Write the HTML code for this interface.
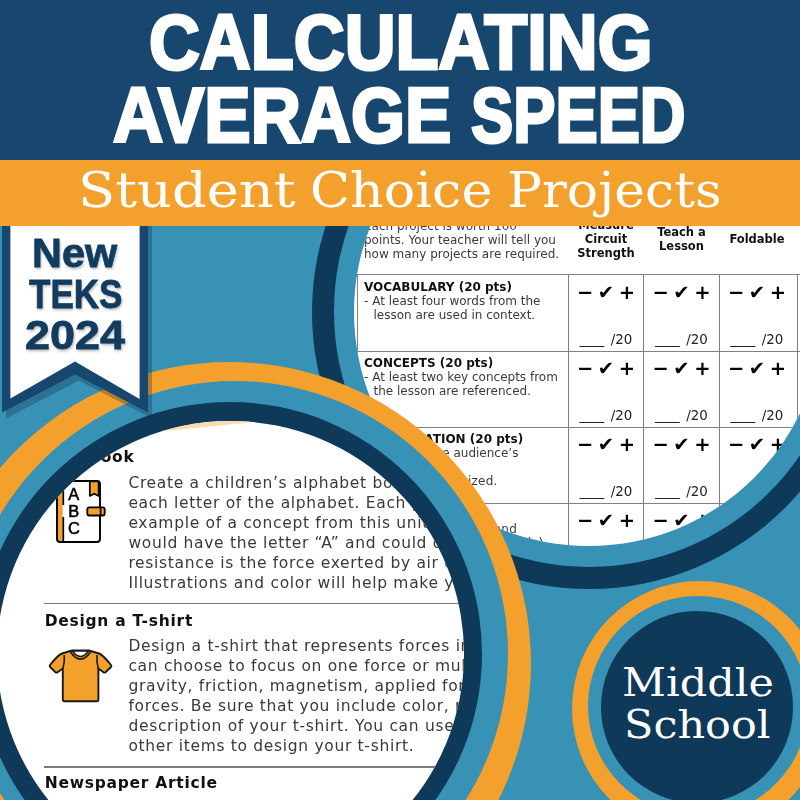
<!DOCTYPE html>
<html lang="en">
<head>
<meta charset="utf-8">
<title>Calculating Average Speed - Student Choice Projects</title>
<style>
html,body{margin:0;padding:0}
body{width:800px;height:800px;overflow:hidden;position:relative;background:#3792b6;font-family:"DejaVu Sans","Liberation Sans",sans-serif}
.abs{position:absolute}
.circ{position:absolute;border-radius:50%}
.doc{position:absolute;border-radius:50%;overflow:hidden;background:#fff}
.page{position:absolute;width:800px;height:800px;will-change:transform}
.t{position:absolute;white-space:pre;line-height:1;transform-origin:0 0}
/* rubric */
.rb{font:12px "DejaVu Sans","Liberation Sans",sans-serif;color:#3b3b3b}
.rh{font:bold 12px "DejaVu Sans","Liberation Sans",sans-serif;color:#111}
.ch{font:bold 11.5px "DejaVu Sans","Liberation Sans",sans-serif;color:#111;text-align:center;width:76px;letter-spacing:0}
.sym{font:bold 19.5px "DejaVu Sans","Liberation Sans",sans-serif;color:#000;text-align:center;width:76px;word-spacing:-2.2px}
.us{letter-spacing:-.7px}
.sc{font:13.4px "DejaVu Sans","Liberation Sans",sans-serif;color:#222;text-align:center;width:76px;word-spacing:3px}
.hl{position:absolute;height:1.2px;background:#808080}
.vl{position:absolute;width:1.2px;background:#808080}
/* projects doc */
.pb{font:15.5px "DejaVu Sans","Liberation Sans",sans-serif;color:#3a3a3a;letter-spacing:.68px}
.ph{font:bold 15.5px "DejaVu Sans","Liberation Sans",sans-serif;color:#111;letter-spacing:.73px}
.dv{position:absolute;height:1.6px;background:#7a7a7a}
/* header */
.hd{font:bold 77.4px "Liberation Sans",sans-serif;color:#fff;-webkit-text-stroke:3px #fff}
.sub{font:49px "DejaVu Serif","Liberation Serif",serif;color:#fff}
.rib{font:bold 40.6px "Liberation Sans",sans-serif;color:#123c5e;-webkit-text-stroke:.8px #123c5e;text-shadow:1px 2px 3px rgba(0,0,0,.3)}
.ms{font:39.4px "DejaVu Serif","Liberation Serif",serif;color:#fff}
</style>
</head>
<body>

<!-- ===== rubric circle (top right) ===== -->
<div class="circ" style="left:312.3px;top:34.8px;width:553.8px;height:553.8px;background:#0e3959"></div>
<div class="circ" style="left:333.9px;top:56.4px;width:510.6px;height:510.6px;background:#3792b6"></div>
<div class="doc" id="rubric" style="left:354.4px;top:78px;width:468.2px;height:468.2px">
 <div class="page" style="left:-354.4px;top:-78.5px">
  <div class="t rb" style="left:364px;top:219px">Each project is worth 100</div>
  <div class="t rb" style="left:364px;top:233px">points. Your teacher will tell you</div>
  <div class="t rb" style="left:364px;top:247px">how many projects are required.</div>
  <div class="t ch" style="left:568px;top:218px">Measure</div>
  <div class="t ch" style="left:568px;top:232px">Circuit</div>
  <div class="t ch" style="left:568px;top:246px">Strength</div>
  <div class="t ch" style="left:643.5px;top:225px">Teach a</div>
  <div class="t ch" style="left:643.5px;top:239px">Lesson</div>
  <div class="t ch" style="left:719px;top:232px">Foldable</div>

  <div class="hl" style="left:357px;top:273.7px;width:460px"></div>
  <div class="hl" style="left:357px;top:350.5px;width:460px"></div>
  <div class="hl" style="left:357px;top:426.5px;width:460px"></div>
  <div class="hl" style="left:357px;top:502.7px;width:460px"></div>
  <div class="vl" style="left:356.6px;top:273.7px;height:300px"></div>
  <div class="vl" style="left:567.8px;top:273.7px;height:300px"></div>
  <div class="vl" style="left:643.3px;top:273.7px;height:300px"></div>
  <div class="vl" style="left:718.6px;top:273.7px;height:300px"></div>
  <div class="vl" style="left:797.2px;top:273.7px;height:300px"></div>

  <div class="t rh" style="left:364px;top:279.5px">VOCABULARY (20 pts)</div>
  <div class="t rb" style="left:364px;top:294px">- At least four words from the</div>
  <div class="t rb" style="left:373.5px;top:308px">lesson are used in context.</div>

  <div class="t rh" style="left:364px;top:355.5px">CONCEPTS (20 pts)</div>
  <div class="t rb" style="left:364px;top:370px">- At least two key concepts from</div>
  <div class="t rb" style="left:373.5px;top:384px">the lesson are referenced.</div>

  <div class="t rh" style="left:364px;top:431.5px">PRESENTATION (20 pts)</div>
  <div class="t rb" style="left:364px;top:446px">- Captures the audience’s</div>
  <div class="t rb" style="left:373.5px;top:460px">attention.</div>
  <div class="t rb" style="left:364px;top:474px;letter-spacing:.17px">- Project is organized.</div>

  <div class="t rh" style="left:364px;top:507.5px">QUALITY (20 pts)</div>
  <div class="t rb" style="left:364px;top:522px;letter-spacing:.29px">- Is colorful, original and</div>
  <div class="t rb" style="left:373.5px;top:536px;letter-spacing:-.14px">attractive (where applicable)</div>

  <!-- score cells -->
  <div class="t sym" style="left:568px;top:280.7px">− ✔ +</div>
  <div class="t sym" style="left:643.5px;top:280.7px">− ✔ +</div>
  <div class="t sym" style="left:719px;top:280.7px">− ✔ +</div>
  <div class="t sc" style="left:568px;top:332px"><span class="us">____</span> /20</div>
  <div class="t sc" style="left:643.5px;top:332px"><span class="us">____</span> /20</div>
  <div class="t sc" style="left:719px;top:332px"><span class="us">____</span> /20</div>

  <div class="t sym" style="left:568px;top:356.7px">− ✔ +</div>
  <div class="t sym" style="left:643.5px;top:356.7px">− ✔ +</div>
  <div class="t sym" style="left:719px;top:356.7px">− ✔ +</div>
  <div class="t sc" style="left:568px;top:408px"><span class="us">____</span> /20</div>
  <div class="t sc" style="left:643.5px;top:408px"><span class="us">____</span> /20</div>
  <div class="t sc" style="left:719px;top:408px"><span class="us">____</span> /20</div>

  <div class="t sym" style="left:568px;top:432.7px">− ✔ +</div>
  <div class="t sym" style="left:643.5px;top:432.7px">− ✔ +</div>
  <div class="t sym" style="left:719px;top:432.7px">− ✔ +</div>
  <div class="t sc" style="left:568px;top:484px"><span class="us">____</span> /20</div>
  <div class="t sc" style="left:643.5px;top:484px"><span class="us">____</span> /20</div>
  <div class="t sc" style="left:719px;top:484px"><span class="us">____</span> /20</div>

  <div class="t sym" style="left:568px;top:508.7px">− ✔ +</div>
  <div class="t sym" style="left:643.5px;top:508.7px">− ✔ +</div>
  <div class="t sym" style="left:719px;top:508.7px">− ✔ +</div>
 </div>
</div>

<!-- ===== projects circle (bottom left) ===== -->
<div class="circ" style="left:-72.5px;top:362.1px;width:603.2px;height:603.2px;background:#f3a02d"></div>
<div class="circ" style="left:-38.3px;top:380.6px;width:546px;height:546px;background:#3792b6"></div>
<div class="circ" style="left:-22.3px;top:401.7px;width:504.4px;height:504.4px;background:#0e3959"></div>
<div class="doc" id="projects" style="left:-2.6px;top:421.3px;width:466.2px;height:466.2px">
 <div class="page" style="left:2.6px;top:-421.3px">
  <svg class="abs" style="left:140px;top:410px" width="120" height="30" viewBox="140 410 120 30"><path d="M150 412H250V422.6L150 432.4Z" fill="#fcdcae"/></svg>
  <div class="t ph" style="left:44.7px;top:448px">ABC Book</div>
  <div class="t pb" style="left:128.4px;top:474px">Create a children’s alphabet book with a page for</div>
  <div class="t pb" style="left:128.4px;top:494px">each letter of the alphabet. Each page should have an</div>
  <div class="t pb" style="left:128.4px;top:514px">example of a concept from this unit. For example, you</div>
  <div class="t pb" style="left:128.4px;top:534px">would have the letter “A” and could describe how air</div>
  <div class="t pb" style="left:128.4px;top:554px">resistance is the force exerted by air on moving objects.</div>
  <div class="t pb" style="left:128.4px;top:574px">Illustrations and color will help make your book fun.</div>
  <div class="dv" style="left:44px;top:602.7px;width:440px"></div>

  <div class="t ph" style="left:44.7px;top:611.5px">Design a T-shirt</div>
  <div class="t pb" style="left:128.4px;top:637px">Design a t-shirt that represents forces in motion. You</div>
  <div class="t pb" style="left:128.4px;top:657px">can choose to focus on one force or multiple forces like</div>
  <div class="t pb" style="left:128.4px;top:677px">gravity, friction, magnetism, applied force, or balanced</div>
  <div class="t pb" style="left:128.4px;top:697px">forces. Be sure that you include color, pictures, and a</div>
  <div class="t pb" style="left:128.4px;top:717px">description of your t-shirt. You can use paper, fabric, or</div>
  <div class="t pb" style="left:128.4px;top:737px">other items to design your t-shirt.</div>
  <div class="dv" style="left:44px;top:766.2px;width:440px"></div>

  <div class="t ph" style="left:44.7px;top:774px">Newspaper Article</div>

  <!-- ABC book icon -->
  <svg class="abs" style="left:50px;top:474px" width="64" height="76" viewBox="50 474 64 76">
   <rect x="57" y="481" width="43" height="61" rx="3" fill="#fff"/>
   <rect x="57.5" y="481.5" width="5.2" height="60" fill="#f3a02d"/>
   <path d="M89.8 481.5h8.8v14.4l-4.4-2.2-4.4 2.2z" fill="#f3a02d" stroke="#000" stroke-width="1.7" stroke-linejoin="round"/>
   <rect x="57" y="481" width="43" height="61" rx="3" fill="none" stroke="#000" stroke-width="1.9"/>
   <path d="M63.3 482v23M63.3 517v24" stroke="#000" stroke-width="1.7"/>
   <rect x="87.3" y="507.3" width="17.4" height="8.2" rx="2" fill="#f3a02d" stroke="#000" stroke-width="1.8"/>
   <path d="M100.6 507.5v8" stroke="#000" stroke-width="1.7"/>
   <text x="73.8" y="500.2" text-anchor="middle" font-family="Liberation Sans, sans-serif" font-size="16.4" fill="#000" stroke="#000" stroke-width=".55">A</text>
   <text x="73.8" y="517" text-anchor="middle" font-family="Liberation Sans, sans-serif" font-size="16.4" fill="#000" stroke="#000" stroke-width=".55">B</text>
   <text x="73.8" y="534" text-anchor="middle" font-family="Liberation Sans, sans-serif" font-size="16.4" fill="#000" stroke="#000" stroke-width=".55">C</text>
  </svg>

  <!-- t-shirt icon -->
  <svg class="abs" style="left:44px;top:644px" width="74" height="64" viewBox="44 644 74 64">
   <path d="M72 650.5 L62 653.5 Q58 655 50 665 Q49.3 666 50.2 667 L55.5 672.3 Q56.5 673 57.5 672.3 L62.8 668.5 V699.5 Q62.8 701.3 64.6 701.3 H96.6 Q98.4 701.3 98.4 699.5 V668.5 L103.5 672.3 Q104.5 673 105.5 672.3 L111 667 Q111.8 666 111 665 Q103 655 99 653.5 L89 650.5 Z" fill="#f3a02d" stroke="#1a1a1a" stroke-width="1.9" stroke-linejoin="round"/>
   <path d="M72.5 651 Q80.5 662 88.5 651 Z" fill="#fff" stroke="#1a1a1a" stroke-width="1.6" stroke-linejoin="round"/>
   <path d="M70.3 651.8 Q80.5 666.5 90.7 651.8" fill="none" stroke="#1a1a1a" stroke-width="1.6"/>
   <path d="M64.3 655 Q64.8 662 62.9 668.5 M97 655 Q96.4 662 98.3 668.5" fill="none" stroke="#1a1a1a" stroke-width="1.6"/>
  </svg>
 </div>
</div>

<!-- ===== Middle School badge ===== -->
<div class="circ" style="left:572.1px;top:581.4px;width:254.6px;height:254.6px;background:#f3a02d"></div>
<div class="circ" style="left:588.4px;top:596.3px;width:220px;height:220px;background:#3792b6"></div>
<div class="circ" style="left:601.4px;top:611.2px;width:191.4px;height:191.4px;background:#0e3959"></div>
<div class="t ms" id="ms1" style="left:621.5px;top:659px;transform:scaleX(1.09)">Middle</div>
<div class="t ms" id="ms2" style="left:624px;top:701.3px;transform:scaleX(1.09)">School</div>

<!-- ===== ribbon ===== -->
<svg class="abs" style="left:0;top:200px;filter:drop-shadow(4px 6px .4px rgba(20,40,60,.3))" width="170" height="240" viewBox="0 200 170 240">
 <path d="M2 200H148V412.4L75 374.4L2 412.4Z" fill="#17476f"/>
 <path d="M10.4 200H139.6V399L75 361.6L10.4 398.4Z" fill="#fff"/>
</svg>
<div class="t rib" id="r1" style="left:31.5px;top:230px;transform:scaleX(1.02)">New</div>
<div class="t rib" id="r2" style="left:28.5px;top:271.1px;transform:scaleX(.864)">TEKS</div>
<div class="t rib" id="r3" style="left:24.5px;top:312px;transform:scaleX(1.108)">2024</div>

<!-- ===== header ===== -->
<div class="abs" style="left:0;top:0;width:800px;height:160px;background:#17476f"></div>
<div class="abs" style="left:0;top:160px;width:800px;height:65.6px;background:#f3a02d"></div>
<div class="t hd" id="h1" style="left:148.9px;top:-2.2px;transform:scaleX(.9102)">CALCULATING</div>
<div class="t hd" id="h2" style="left:112.9px;top:70.9px;transform:scaleX(.8977)">AVERAGE</div>
<div class="t hd" id="h3" style="left:470.9px;top:70.9px;transform:scaleX(.8177)">SPEED</div>
<div class="t sub" id="s1" style="left:78px;top:162.3px;transform:scaleX(1.108)">Student</div>
<div class="t sub" id="s2" style="left:310px;top:162.3px;transform:scaleX(1.069)">Choice</div>
<div class="t sub" id="s3" style="left:506.5px;top:162.3px;transform:scaleX(1.061)">Projects</div>

</body>
</html>
